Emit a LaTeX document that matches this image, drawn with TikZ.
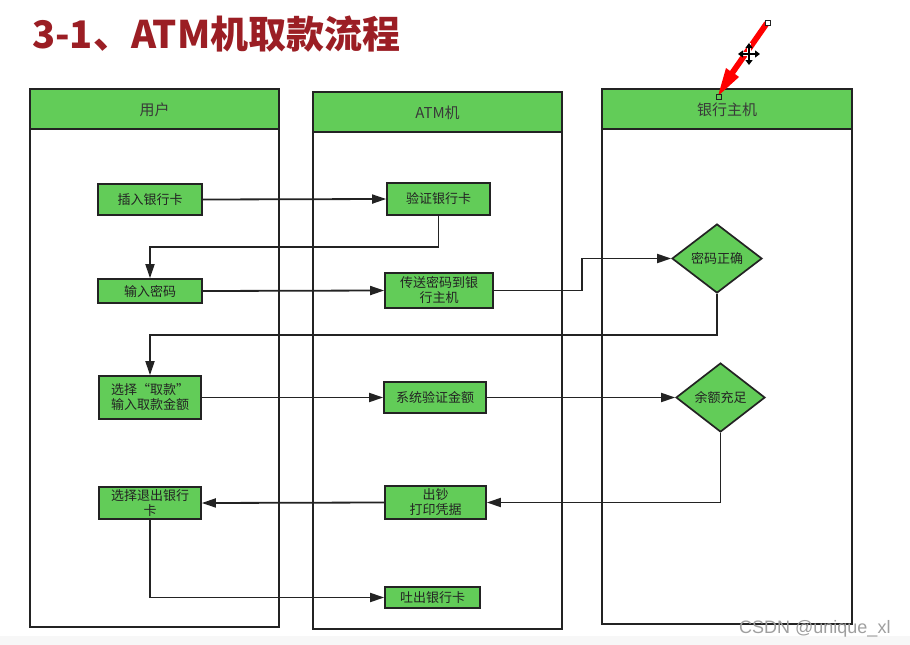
\documentclass[tikz,border=0pt]{standalone}
\usepackage{fontspec}
\newfontfamily\cjk{Noto Sans CJK SC}
\setmainfont{Noto Sans CJK SC}
\setsansfont{Liberation Sans}
\usetikzlibrary{shapes.geometric,arrows.meta}
\definecolor{gfill}{RGB}{98,204,88}
\definecolor{titlered}{RGB}{155,30,36}
\definecolor{ink}{RGB}{35,35,35}
\tikzset{
  lane/.style={draw=ink,line width=1.9pt},
  lanehead/.style={draw=ink,fill=gfill,line width=1.9pt},
  headtxt/.style={font=\cjk\fontsize{15}{17}\selectfont,text=ink!90},
  box/.style={draw=ink,fill=gfill,line width=1.7pt,inner sep=0pt,align=center,
    font=\cjk\fontsize{13}{15}\selectfont,text=ink},
  dbox/.style={diamond,draw=ink,fill=gfill,line width=1.7pt,inner sep=0pt,
    font=\cjk\fontsize{13}{15}\selectfont,text=ink},
  arr/.style={draw=ink,line width=1.8pt,-{Triangle[length=14pt,width=9pt]}},
}
\begin{document}
\begin{tikzpicture}[x=1pt,y=-1pt]
\useasboundingbox (0,0) rectangle (910,645);
\fill[white] (0,0) rectangle (910,645);
\fill[gray!6] (0,636) rectangle (910,645);
% title
\node[anchor=base west,inner sep=0pt,text=titlered,font=\cjk\bfseries\fontsize{38}{42}\selectfont] (title) at (32,48) {3-1、ATM机取款流程};
% lanes
\draw[lane] (30,129) rectangle (279,627);
\draw[lanehead] (30,89) rectangle (279,129);
\node[headtxt] (h1) at (154.5,110) {用户};
\draw[lane] (313,132) rectangle (562,629);
\draw[lanehead] (313,92) rectangle (562,132);
\node[headtxt] (h2) at (437.5,113) {ATM机};
\draw[lane] (602,129) rectangle (852,624);
\draw[lanehead] (602,89) rectangle (852,129);
\node[headtxt] (h3) at (727,110) {银行主机};
% boxes
\node[box,minimum width=104pt,minimum height=31pt] (n1) at (150,199.5) {插入银行卡};
\node[box,minimum width=104pt,minimum height=24pt] (n2) at (150,291) {输入密码};
\node[box,minimum width=102pt,minimum height=43pt] (n3) at (150,397.5) {选择“取款”\\输入取款金额};
\node[box,minimum width=102pt,minimum height=32pt] (n4) at (150,503) {选择退出银行\\卡};
\node[box,minimum width=103pt,minimum height=32pt] (a1) at (438.5,199) {验证银行卡};
\node[box,minimum width=108pt,minimum height=35pt] (a2) at (439,290.5) {传送密码到银\\行主机};
\node[box,minimum width=102pt,minimum height=31pt] (a3) at (435,397.5) {系统验证金额};
\node[box,minimum width=101pt,minimum height=33pt] (a4) at (435.5,502.5) {出钞\\打印凭据};
\node[box,minimum width=95pt,minimum height=21pt] (a5) at (432.5,597.5) {吐出银行卡};
\node[dbox,minimum width=90pt,minimum height=69pt] (d1) at (717,258.5) {密码正确};
\node[dbox,minimum width=89pt,minimum height=69pt] (d2) at (720.5,397.5) {余额充足};
% bend coordinates
\coordinate (y1) at (0,247);
\coordinate (x1) at (582,0);
\coordinate (y2) at (0,335);
% connectors
\draw[arr] (n1.east) -- (a1.west);
\draw[arr] (a1.south) -- (a1.south |- y1) -| (n2.north);
\draw[arr] (n2.east) -- (a2.west);
\draw[arr] (a2.east) -- (a2.east -| x1) |- (d1.west);
\draw[arr] (d1.south) -- (d1.south |- y2) -| (n3.north);
\draw[arr] (n3.east) -- (a3.west);
\draw[arr] (a3.east) -- (d2.west);
\draw[arr] (d2.south) |- (a4.east);
\draw[arr] (a4.west) -- (n4.east);
\draw[arr] (n4.south) |- (a5.west);
% red annotation arrow
\coordinate (ra) at (767,23);
\coordinate (rb) at (718,96);
\fill[red] (764.5,21.5) -- (769.5,24.5) -- (735,74) -- (739,77) -- (718,96) -- (726,68) -- (730,71) -- cycle;
\draw[ink,fill=white,line width=0.6pt] (765,20) rectangle (770,25);
\draw[ink,fill=gfill,line width=0.6pt] (716,94) rectangle (721,99);
% move cursor
\coordinate (mc) at (749,54);
\draw[white,line width=3.5pt] (738,54) -- (760,54) (749,43) -- (749,65);
\draw[black,line width=1.6pt,{Triangle[length=5pt,width=7pt]}-{Triangle[length=5pt,width=7pt]}] (738,54) -- (760,54);
\draw[black,line width=1.6pt,{Triangle[length=5pt,width=7pt]}-{Triangle[length=5pt,width=7pt]}] (749,43) -- (749,65);
% watermark
\node[anchor=base west,inner sep=0pt,text=gray!75,font=\sffamily\fontsize{18}{20}\selectfont] (wm) at (739,633) {CSDN @unique\_xl};
\end{tikzpicture}
\end{document}
